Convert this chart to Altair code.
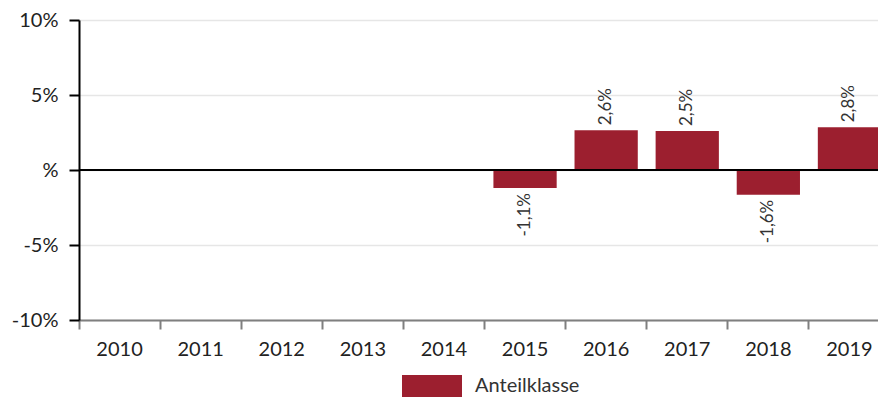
import altair as alt
import pandas as pd

years = [str(y) for y in range(2010, 2020)]
bar_years = ["2015", "2016", "2017", "2018", "2019"]
values = [-1.2, 2.65, 2.6, -1.65, 2.85]
labels = ["-1,1%", "2,6%", "2,5%", "-1,6%", "2,8%"]
series = "Anteilklasse"
y_ticks = [-10, -5, 0, 5, 10]

BAR = "#9c1f2f"
FONT = "Lato"

df = pd.DataFrame({"year": bar_years, "value": values, "label": labels, "series": series})

x = alt.X(
    "year:O",
    scale=alt.Scale(domain=years, paddingInner=0, paddingOuter=0, round=False),
    axis=alt.Axis(
        title=None, labelAngle=0, labelFontSize=20, labelColor="#222", labelFont=FONT,
        labelPadding=10, domainColor="#7f7f7f", domainWidth=2, tickColor="#7f7f7f",
        tickWidth=2, tickSize=9, bandPosition=0, grid=False,
    ),
)
y = alt.Y(
    "value:Q",
    scale=alt.Scale(domain=[-10, 10], nice=False, zero=True),
    axis=alt.Axis(
        title=None, values=y_ticks,
        labelExpr="datum.value == 0 ? '%' : datum.value + '%'",
        labelFontSize=20, labelColor="#222", labelFont=FONT, labelPadding=11,
        domainColor="black", domainWidth=2, tickColor="black", tickWidth=2, tickSize=10,
        grid=True, gridColor="#e6e6e6", gridWidth=1.5,
    ),
)

base = alt.Chart(df)

bars = base.mark_bar(width=alt.RelativeBandSize(0.78)).encode(
    x=x,
    y=y,
    color=alt.Color(
        "series:N",
        scale=alt.Scale(range=[BAR]),
        legend=alt.Legend(
            title=None, orient="none", legendX=323, legendY=336,
            symbolType="M-1,-0.367H1V0.367H-1Z", symbolSize=3600,
            symbolStrokeWidth=0, symbolOpacity=1,
            labelFontSize=20, labelFont=FONT, labelColor="#333",
            padding=0, labelOffset=13,
        ),
    ),
)

pos_text = base.transform_filter("datum.value > 0").mark_text(
    angle=270, align="left", baseline="middle", dx=5, fontSize=17, color="#333", font=FONT
).encode(x=alt.X("year:O"), y=alt.Y("value:Q"), text="label:N")

neg_text = base.transform_filter("datum.value < 0").mark_text(
    angle=270, align="right", baseline="middle", dx=-5, fontSize=17, color="#333", font=FONT
).encode(x=alt.X("year:O"), y=alt.Y("value:Q"), text="label:N")

zero = alt.Chart(pd.DataFrame({"z": [0]})).mark_rule(color="black", strokeWidth=2).encode(y="z:Q")

chart = alt.layer(bars, zero, pos_text, neg_text).properties(
    width=811, height=300,
    autosize=alt.AutoSizeParams(type="none"),
    padding={"left": 71, "top": 12, "right": -12, "bottom": 77},
).configure_view(stroke=None)

chart.save("out.html", embed_options={"renderer": "svg", "actions": False})
